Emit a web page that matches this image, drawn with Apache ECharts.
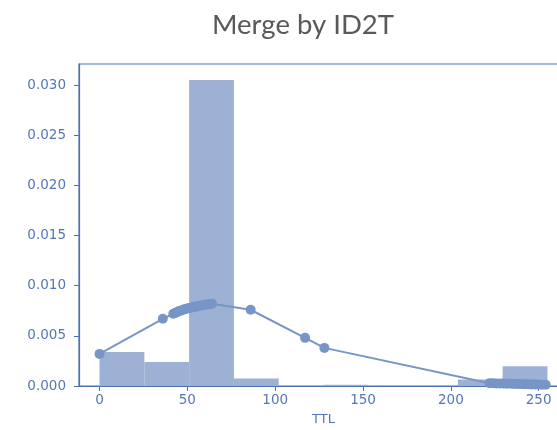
<!DOCTYPE html>
<html>
<head>
<meta charset="utf-8">
<script src="https://cdn.jsdelivr.net/npm/echarts@6/dist/echarts.min.js"></script>
<style>
  html, body { margin: 0; padding: 0; background: #fff; }
  #chart { width: 557px; height: 430px; }
</style>
</head>
<body>
<div id="chart"></div>
<script>
// Histogram of TTL values (density) with the estimated density curve on top.
const binEdges = [0, 25.5, 51, 76.5, 102, 127.5, 153, 178.5, 204, 229.5, 255];
const binDensity = [0.0034, 0.0024, 0.0305, 0.00074, 0, 0.00012, 0, 0, 0.00064, 0.00197];

const curveX = [0, 36, 42, 43, 44, 45, 46, 47, 48, 49, 50, 51, 52, 53, 54, 55, 56, 57, 58, 59, 60, 61, 62, 63, 64,
  86, 117, 128,
  222, 224, 226, 228, 230, 232, 234, 236, 238, 240, 242, 244, 246, 248, 250, 252, 254];
const curveY = [0.0032, 0.0067, 0.0072, 0.00728, 0.00736, 0.00744, 0.0075, 0.00756, 0.00762, 0.00767, 0.00772,
  0.00777, 0.00781, 0.00785, 0.00789, 0.00793, 0.00797, 0.008, 0.00803, 0.00806, 0.00809, 0.00812, 0.00815,
  0.00818, 0.0082,
  0.0076, 0.0048, 0.0038,
  0.00028, 0.00027, 0.00026, 0.00025, 0.00024, 0.00023, 0.00022, 0.00021, 0.0002, 0.00019, 0.00018, 0.00017,
  0.00016, 0.00015, 0.00014, 0.00013, 0.00012];

const xTicks = [0, 50, 100, 150, 200, 250];
const yTicks = [0, 0.005, 0.01, 0.015, 0.02, 0.025, 0.03];

const axisBlue = '#4c72b0';
const labelBlue = '#5677b6';
const barColor = '#9db1d4';
const lineColor = '#7795c6';

const bins = binDensity.map((d, i) => [binEdges[i], binEdges[i + 1], d]);
const curve = curveX.map((x, i) => [x, curveY[i]]);

const chart = echarts.init(document.getElementById('chart'), null, { renderer: 'canvas' });
chart.setOption({
  animation: false,
  backgroundColor: '#fff',
  title: {
    text: 'Merge by ID2T',
    left: 298, top: 6, textAlign: 'center',
    textStyle: { fontFamily: 'Lato', fontSize: 27.5, fontWeight: 'normal', color: '#595959' }
  },
  grid: {
    left: 79, top: 64, width: 489, height: 322,
    outerBoundsMode: 'none', containLabel: false,
    show: true, borderColor: axisBlue, borderWidth: 1.2, backgroundColor: 'transparent'
  },
  xAxis: {
    type: 'value', min: -11.7, max: 266.7,
    name: 'TTL', nameLocation: 'middle', nameGap: 27,
    nameTextStyle: { fontFamily: 'DejaVu Sans', fontSize: 13, color: labelBlue },
    axisLine: { show: true, onZero: false, lineStyle: { color: axisBlue, width: 1.2 } },
    axisTick: { show: true, length: 5, customValues: xTicks, lineStyle: { color: axisBlue } },
    axisLabel: {
      fontFamily: 'DejaVu Sans', fontSize: 13.5, color: labelBlue, margin: 7,
      customValues: xTicks,
      formatter: v => String(v)
    },
    splitLine: { show: false }
  },
  yAxis: {
    type: 'value', min: 0, max: 0.0321,
    axisLine: { show: true, onZero: false, lineStyle: { color: axisBlue, width: 1.2 } },
    axisTick: { show: true, length: 5, customValues: yTicks, lineStyle: { color: axisBlue } },
    axisLabel: {
      fontFamily: 'DejaVu Sans', fontSize: 13.5, color: labelBlue, margin: 13,
      customValues: yTicks,
      formatter: v => v.toFixed(3)
    },
    splitLine: { show: false }
  },
  series: [
    {
      type: 'custom',
      data: bins,
      renderItem: (params, api) => {
        const p0 = api.coord([api.value(0), 0]);
        const p1 = api.coord([api.value(1), api.value(2)]);
        return {
          type: 'rect',
          shape: { x: p0[0], y: p1[1], width: p1[0] - p0[0], height: p0[1] - p1[1] },
          style: { fill: barColor }
        };
      },
      encode: { x: [0, 1], y: 2 },
      z: 1
    },
    {
      type: 'line',
      data: curve,
      symbol: 'circle',
      symbolSize: 10,
      showAllSymbol: true,
      lineStyle: { color: lineColor, width: 2 },
      itemStyle: { color: lineColor },
      z: 2
    }
  ]
});
</script>
</body>
</html>
